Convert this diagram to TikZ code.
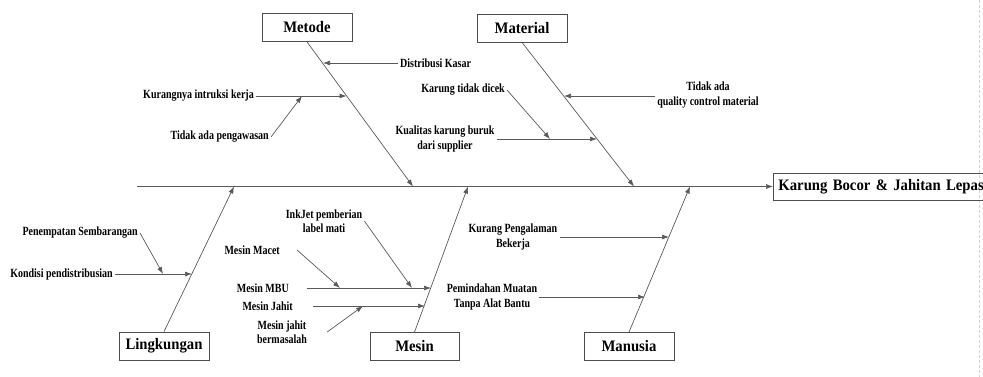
\documentclass[tikz,border=0pt]{standalone}
\usepackage{fontspec}
\setmainfont{Liberation Serif}[FakeStretch=0.8]
\newfontfamily\catfont{Liberation Serif}[FakeStretch=0.92]
\usetikzlibrary{arrows.meta, positioning}

\begin{document}
\begin{tikzpicture}[x=1pt, y=-1pt,
  font=\fontsize{12.5}{14.5}\selectfont\bfseries,
  bone/.style={draw=black!65, line width=.7pt},
  arr/.style={bone, -{Latex[length=7pt,width=5pt]}},
  cat/.style={draw=black!70, line width=.8pt, minimum width=90pt,
    minimum height=28pt, inner sep=0pt,
    font=\catfont\fontsize{16}{18}\selectfont\bfseries},
  lbl/.style={inner sep=2pt, align=center}]

  \useasboundingbox (0,0) rectangle (983,377);
  \draw[gray!35, dash pattern=on 3pt off 2pt] (979,0) -- (979,377);

  % kategori
  \node[cat] (metode) at (307,27.5) {Metode};
  \node[cat] (material) at (522,28) {Material};
  \node[cat] (lingkungan) at (164,346) {Lingkungan};
  \node[cat, minimum width=89pt] (mesin) at (414.5,346.5) {Mesin};
  \node[cat] (manusia) at (629,346.5) {Manusia};
  \node[cat, anchor=west, text width=226pt, align=left, inner xsep=5pt,
    minimum height=27pt] (akibat) at (773,186.5) {Karung Bocor \& Jahitan Lepas};

  % tulang utama
  \coordinate (ekor) at (137,186.5);
  \coordinate (t1) at (413,186.5);
  \coordinate (t2) at (634,186.5);
  \coordinate (t3) at (234,186.5);
  \coordinate (t4) at (468,186.5);
  \coordinate (t5) at (690,186.5);
  \draw[arr] (ekor) -- (akibat.west);
  \draw[arr] (metode.south) -- (t1);
  \draw[arr] (material.south) -- (t2);
  \draw[arr] (lingkungan.north) -- (t3);
  \draw[arr] (mesin.north) -- (t4);
  \draw[arr] (manusia.north) -- (t5);

  % metode
  \coordinate (m1) at (323,63);
  \coordinate (m2) at (346.5,96);
  \coordinate (m3) at (302,96);
  \node[lbl, anchor=west] (distribusi) at (398,63) {Distribusi Kasar};
  \node[lbl, anchor=east] (instruksi) at (256,96) {Kurangnya intruksi kerja};
  \node[lbl, anchor=east] (pengawasan) at (271,137) {Tidak ada pengawasan};
  \draw[arr] (distribusi.west) -- (m1);
  \draw[arr] (instruksi.east |- m2) -- (m2);
  \draw[arr] (pengawasan.east) -- (m3);

  % material
  \coordinate (a1) at (564,96);
  \coordinate (a2) at (597,139);
  \coordinate (a3) at (550,139);
  \node[lbl] (qc) at (708,95) {Tidak ada\\quality control material};
  \node[lbl, anchor=east] (dicek) at (507,90) {Karung tidak dicek};
  \node[lbl] (kualitas) at (445,139) {Kualitas karung buruk\\dari supplier};
  \draw[arr] (qc.west |- a1) -- (a1);
  \draw[arr] (dicek.east) -- (a3);
  \draw[arr] (kualitas.east |- a2) -- (a2);

  % lingkungan
  \coordinate (l1) at (192,274);
  \coordinate (l2) at (163,274);
  \node[lbl, anchor=east] (kondisi) at (115,274) {Kondisi pendistribusian};
  \node[lbl, anchor=east] (penempatan) at (140,233) {Penempatan Sembarangan};
  \draw[arr] (kondisi.east |- l1) -- (l1);
  \draw[arr] (penempatan.east) -- (l2);

  % mesin
  \coordinate (s1) at (431,288);
  \coordinate (s2) at (425,306);
  \coordinate (s3) at (412,288);
  \coordinate (s4) at (340,288);
  \coordinate (s5) at (363,306);
  \node[lbl] (inkjet) at (324,221) {InkJet pemberian\\label mati};
  \node[lbl, anchor=east] (macet) at (282,250) {Mesin Macet};
  \node[lbl, anchor=east] (mbu) at (291,288) {Mesin MBU};
  \node[lbl, anchor=east] (jahit) at (295,306) {Mesin Jahit};
  \node[lbl] (bermasalah) at (282,332) {Mesin jahit\\bermasalah};
  \draw[arr] ([xshift=16pt]mbu.east |- s1) -- (s1);
  \draw[arr] ([xshift=18pt]jahit.east |- s2) -- (s2);
  \draw[arr] (inkjet.east) -- (s3);
  \draw[arr] ([xshift=15pt]macet.east) -- (s4);
  \draw[arr] ([xshift=18pt]bermasalah.east) -- (s5);

  % manusia
  \coordinate (n1) at (669,237);
  \coordinate (n2) at (645,297);
  \node[lbl] (pengalaman) at (513,237) {Kurang Pengalaman\\Bekerja};
  \node[lbl] (pemindahan) at (492,297) {Pemindahan Muatan\\Tanpa Alat Bantu};
  \draw[arr] (pengalaman.east |- n1) -- (n1);
  \draw[arr] (pemindahan.east |- n2) -- (n2);
\end{tikzpicture}
\end{document}
